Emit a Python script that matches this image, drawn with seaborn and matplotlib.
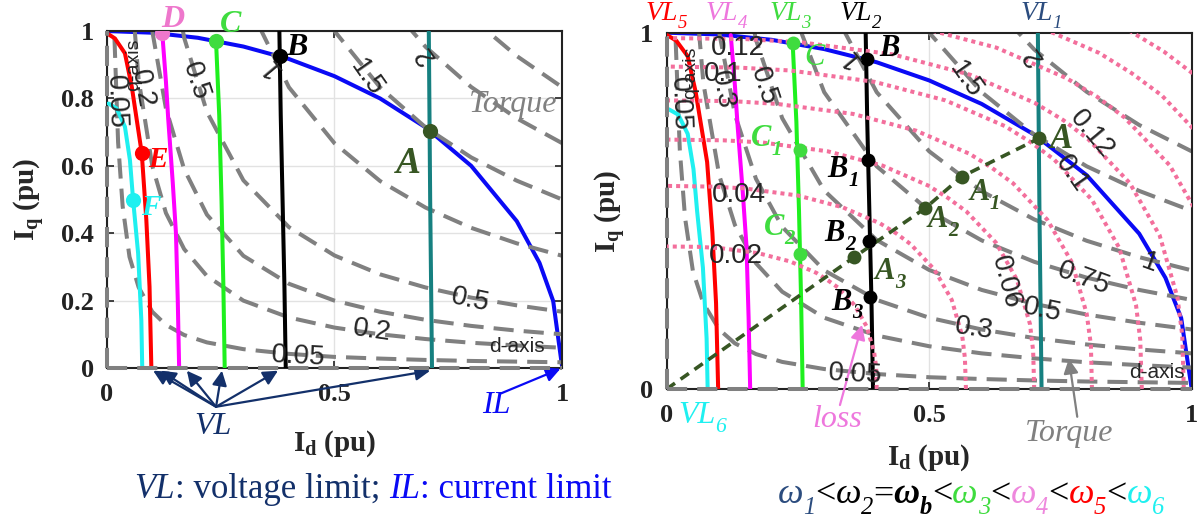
import numpy as np
import pandas as pd
import seaborn as sns
import matplotlib
matplotlib.use("Agg")
import matplotlib.pyplot as plt
from matplotlib.transforms import offset_copy

nan = np.nan

# ---------------- data ----------------
# current limit (IL) circle
il_id = [0.0, 0.1, 0.2, 0.3, 0.4, 0.5, 0.6, 0.7, 0.8, 0.9, 0.95, 0.98, 1.0]
il_iq = [1.0, 0.995, 0.98, 0.954, 0.917, 0.866, 0.80, 0.714, 0.60, 0.436, 0.312, 0.199, 0.0]

# voltage limit curves VL1..VL6
vl1_id = [0.707, 0.710, 0.714]
vl1_iq = [1.0, 0.5, 0.0]
vl2_id = [0.379, 0.382, 0.386, 0.390, 0.393]
vl2_iq = [1.0, 0.75, 0.5, 0.25, 0.0]
vl3_id = [0.240, 0.247, 0.252, 0.256, 0.259]
vl3_iq = [0.97, 0.75, 0.5, 0.25, 0.0]
vl4_id = [0.122, 0.130, 0.135, 0.145, 0.152, 0.156, 0.159]
vl4_iq = [0.993, 0.85, 0.74, 0.55, 0.40, 0.20, 0.0]
vl5_id = [0.001, 0.018, 0.040, 0.055, 0.066, 0.077, 0.087, 0.094, 0.098]
vl5_iq = [0.993, 0.978, 0.934, 0.835, 0.736, 0.637, 0.439, 0.241, 0.0]
vl6_id = [0.004, 0.022, 0.040, 0.051, 0.058, 0.069, 0.076, 0.078]
vl6_iq = [0.785, 0.770, 0.716, 0.617, 0.498, 0.340, 0.142, 0.0]

# constant-torque curves (Iq read at shared Id positions)
id_grid = [0.017, 0.025, 0.035, 0.05, 0.07, 0.1, 0.13, 0.17, 0.22, 0.3, 0.4, 0.5, 0.6, 0.7, 0.8, 0.9, 1.0]
torque_005 = [0.98, 0.67, 0.48, 0.33, 0.24, 0.167, 0.128, 0.098, 0.076, 0.056, 0.042, 0.033, 0.028, 0.024, 0.021, 0.019, 0.017]
torque_02 = [nan, nan, nan, 1.2, 0.857, 0.6, 0.46, 0.353, 0.273, 0.2, 0.15, 0.12, 0.1, 0.086, 0.075, 0.067, 0.06]
torque_03 = [nan, nan, nan, nan, 1.43, 1.0, 0.77, 0.59, 0.455, 0.333, 0.25, 0.2, 0.167, 0.143, 0.125, 0.111, 0.1]
torque_05 = [nan, nan, nan, nan, nan, nan, 1.28, 0.98, 0.76, 0.557, 0.418, 0.334, 0.278, 0.239, 0.209, 0.186, 0.167]
torque_075 = [nan, nan, nan, nan, nan, nan, nan, 1.47, 1.14, 0.833, 0.625, 0.5, 0.417, 0.357, 0.3125, 0.278, 0.25]
torque_1 = [nan, nan, nan, nan, nan, nan, nan, nan, 1.51, 1.11, 0.833, 0.667, 0.555, 0.476, 0.416, 0.37, 0.333]
torque_15 = [nan, nan, nan, nan, nan, nan, nan, nan, nan, nan, 1.25, 1.0, 0.833, 0.714, 0.625, 0.556, 0.5]
torque_2 = [nan, nan, nan, nan, nan, nan, nan, nan, nan, nan, nan, nan, 1.11, 0.953, 0.834, 0.741, 0.667]
torque_25 = [nan, nan, nan, nan, nan, nan, nan, nan, nan, nan, nan, nan, nan, nan, 1.04, 0.926, 0.833]

# loss contours (right chart)
loss_002_id = [0.400, 0.399, 0.395, 0.381, 0.358, 0.326, 0.306, 0.285, 0.235, 0.175, 0.104, 0.061, 0.0]
loss_002_iq = [0.0, 0.061, 0.104, 0.175, 0.235, 0.285, 0.306, 0.326, 0.358, 0.381, 0.395, 0.399, 0.400]
loss_004_id = [0.570, 0.568, 0.563, 0.543, 0.510, 0.465, 0.437, 0.406, 0.335, 0.250, 0.148, 0.087, 0.0]
loss_004_iq = [0.0, 0.087, 0.148, 0.250, 0.335, 0.406, 0.437, 0.465, 0.510, 0.543, 0.563, 0.568, 0.570]
loss_006_id = [0.700, 0.698, 0.692, 0.667, 0.627, 0.571, 0.536, 0.498, 0.411, 0.307, 0.182, 0.107, 0.0]
loss_006_iq = [0.0, 0.107, 0.182, 0.307, 0.411, 0.498, 0.536, 0.571, 0.627, 0.667, 0.692, 0.698, 0.700]
loss_008_id = [0.810, 0.808, 0.800, 0.772, 0.725, 0.660, 0.620, 0.577, 0.475, 0.355, 0.211, 0.124, 0.0]
loss_008_iq = [0.0, 0.124, 0.211, 0.355, 0.475, 0.577, 0.620, 0.660, 0.725, 0.772, 0.800, 0.808, 0.810]
loss_010_id = [0.905, 0.902, 0.894, 0.862, 0.810, 0.738, 0.693, 0.644, 0.531, 0.396, 0.235, 0.138, 0.0]
loss_010_iq = [0.0, 0.138, 0.235, 0.396, 0.531, 0.644, 0.693, 0.738, 0.810, 0.862, 0.894, 0.902, 0.905]
loss_012_id = [0.985, 0.982, 0.973, 0.939, 0.882, 0.803, 0.755, 0.701, 0.578, 0.431, 0.256, 0.151, 0.0]
loss_012_iq = [0.0, 0.151, 0.256, 0.431, 0.578, 0.701, 0.755, 0.803, 0.882, 0.939, 0.973, 0.982, 0.985]
loss_014_id = [1.070, 1.067, 1.057, 1.020, 0.958, 0.872, 0.820, 0.762, 0.628, 0.469, 0.278, 0.164, 0.0]
loss_014_iq = [0.0, 0.164, 0.278, 0.469, 0.628, 0.762, 0.820, 0.872, 0.958, 1.020, 1.057, 1.067, 1.070]
loss_016_id = [1.157, 1.154, 1.143, 1.103, 1.036, 0.943, 0.886, 0.824, 0.679, 0.507, 0.301, 0.177, 0.0]
loss_016_iq = [0.0, 0.177, 0.301, 0.507, 0.679, 0.824, 0.886, 0.943, 1.036, 1.103, 1.143, 1.154, 1.157]
loss_018_id = [1.236, 1.232, 1.221, 1.178, 1.106, 1.007, 0.947, 0.880, 0.726, 0.541, 0.321, 0.189, 0.0]
loss_018_iq = [0.0, 0.189, 0.321, 0.541, 0.726, 0.880, 0.947, 1.007, 1.106, 1.178, 1.221, 1.232, 1.236]

# operating path (right chart)
path_id = [0.0, 0.357, 0.492, 0.562, 0.710]
path_iq = [0.0, 0.370, 0.507, 0.596, 0.704]

# operating points
pt_A = (0.710, 0.704)
pt_B = (0.381, 0.925)
pt_C = (0.240, 0.970)
pt_D = (0.122, 0.993)
pt_E = (0.078, 0.638)
pt_F = (0.058, 0.498)
pts_A_sub_id = [0.562, 0.492, 0.357]
pts_A_sub_iq = [0.596, 0.507, 0.370]
pts_B_sub_id = [0.384, 0.386, 0.387]
pts_B_sub_iq = [0.643, 0.416, 0.259]
pts_C_sub_id = [0.253, 0.254]
pts_C_sub_iq = [0.671, 0.379]

# ---------------- style ----------------
sns.set_theme(style="white")
plt.rcParams["font.family"] = ["Liberation Serif", "DejaVu Sans"]
plt.rcParams["mathtext.fontset"] = "custom"
plt.rcParams["mathtext.rm"] = "Liberation Serif"
plt.rcParams["mathtext.it"] = "Liberation Serif:italic"
plt.rcParams["mathtext.bf"] = "Liberation Serif:bold"

GRAY = "#808080"
PINK = "#f36f9c"
TEAL = "#168080"
GREEN = "#1ef01e"
MAG = "#ff00ff"
RED = "#ff0000"
CYAN = "#1ff0f0"
BLUE = "#0a0af5"
OLIVE = "#375623"
CLAB = "#3fdc3f"
DLAB = "#ee77cc"
NAVY = "#13306a"
VL1C = "#2b4c7e"
SANS = "Liberation Sans"

fig = plt.figure(figsize=(12.03, 5.19), dpi=100)
ax1 = fig.add_axes([0.0887, 0.2909, 0.3787, 0.6493])
ax2 = fig.add_axes([0.5542, 0.2505, 0.4364, 0.6865])


def line(ax, x, y, color, lw=2.9, ls="-", z=2.0, clip=True):
    sns.lineplot(x=x, y=y, ax=ax, color=color, linewidth=lw, linestyle=ls,
                 sort=False, estimator=None, zorder=z, legend=False, clip_on=clip)


def dots(ax, xs, ys, color, s=110):
    sns.scatterplot(x=xs, y=ys, ax=ax, color=color, s=s, linewidth=0, zorder=6, legend=False)


def rich(x, y, pieces, size, transform, ha="center"):
    r = fig.canvas.get_renderer()

    def width(s, kw):
        t1 = fig.text(0, 0, "|" + s + "|", **kw)
        w1 = t1.get_window_extent(r).width
        t1.remove()
        t2 = fig.text(0, 0, "||", **kw)
        w2 = t2.get_window_extent(r).width
        t2.remove()
        return w1 - w2

    items = []
    total = 0.0
    for s, opts in pieces:
        opts = dict(opts)
        sub = opts.pop("sub", False)
        fs = size * (0.68 if sub else 1.0)
        kw = dict(fontsize=fs, family="Liberation Serif")
        kw.update(opts)
        w = width(s, kw)
        items.append((s, kw, sub, w))
        total += w
    cur = {"center": -total / 2, "left": 0.0, "right": -total}[ha]
    for s, kw, sub, w in items:
        dy = -0.28 * size if sub else 0.0
        tr = offset_copy(transform, fig=fig, x=cur * 72.0 / fig.dpi, y=dy, units="points")
        fig.text(x, y, s, transform=tr, ha="left", va="baseline", **kw)
        cur += w


TDASH = (0, (5, 2.5))
PDOT = (0, (1, 1))

# ---------------- left chart ----------------
for tq in [torque_005, torque_02, torque_03, torque_05, torque_1, torque_15, torque_2, torque_25]:
    line(ax1, id_grid, tq, GRAY, lw=2.9, ls=TDASH, z=2.4)
line(ax1, [0.0, 1.0], [0.0, 0.0], GRAY, lw=2.9, ls=TDASH, z=4.5, clip=False)
line(ax1, [0.0, 0.0], [0.0, 1.0], GRAY, lw=2.9, ls=TDASH, z=4.5, clip=False)
line(ax1, il_id, il_iq, BLUE, lw=2.9, z=2.2)
for vx, vy, c in [(vl1_id, vl1_iq, TEAL), (vl2_id, vl2_iq, "black"), (vl3_id, vl3_iq, GREEN),
                  (vl4_id, vl4_iq, MAG), (vl5_id, vl5_iq, RED), (vl6_id, vl6_iq, CYAN)]:
    line(ax1, vx, vy, c, lw=2.9, z=3)
for p, c in [(pt_A, OLIVE), (pt_B, "black"), (pt_C, CLAB), (pt_D, DLAB), (pt_E, RED), (pt_F, CYAN)]:
    dots(ax1, [p[0]], [p[1]], c, s=120)

lab_kw = dict(family="Liberation Serif", style="italic", weight="bold", ha="center", va="center",
              clip_on=False, zorder=7)
ax1.text(0.662, 0.608, "A", color=OLIVE, fontsize=27, **lab_kw)
ax1.text(0.418, 0.95, "B", color="black", fontsize=23, **lab_kw)
ax1.text(0.272, 1.02, "C", color=CLAB, fontsize=23, **lab_kw)
ax1.text(0.144, 1.035, "D", color=DLAB, fontsize=23, **lab_kw)
ax1.text(0.112, 0.62, "E", color=RED, fontsize=21, **lab_kw)
ax1.text(0.097, 0.475, "F", color=CYAN, fontsize=21, **lab_kw)

clab1 = [("0.05", 0.020, 0.79, -88), ("0.2", 0.077, 0.83, -80), ("0.5", 0.194, 0.85, -72),
         ("1", 0.36, 0.895, 130), ("1.5", 0.571, 0.86, -55), ("2", 0.70, 0.93, 125),
         ("0.05", 0.42, 0.035, -3), ("0.2", 0.583, 0.11, -8), ("0.5", 0.797, 0.20, -12)]
for s, x, y, rot in clab1:
    ax1.text(x, y, s, fontsize=20, family=SANS, rotation=rot, ha="center", va="center",
             rotation_mode="anchor", zorder=6, clip_on=False)
ax1.text(0.90, 0.065, "d-axis", fontsize=15, family=SANS, ha="center", va="center", zorder=6)
ax1.text(0.058, 0.90, "q-axis", fontsize=14, family=SANS, rotation=90, ha="center", va="center", zorder=6)
ax1.text(0.893, 0.783, "Torque", fontsize=23, family="Liberation Serif", style="italic",
         color=GRAY, ha="center", va="center", zorder=6, clip_on=False)

# arrows below the left chart
vl_tips = [0.102, 0.119, 0.176, 0.253, 0.376, 0.71]
for tx in vl_tips:
    ax1.annotate("", xy=(tx, -0.008), xytext=(0.24, -0.115), xycoords="data",
                 arrowprops=dict(arrowstyle="-|>", color=NAVY, lw=1.6, mutation_scale=22,
                                 shrinkA=0, shrinkB=0), annotation_clip=False)
ax1.annotate("", xy=(0.996, -0.002), xytext=(0.866, -0.075), xycoords="data",
             arrowprops=dict(arrowstyle="-|>", color=BLUE, lw=1.6, mutation_scale=22,
                             shrinkA=0, shrinkB=0), annotation_clip=False)
ax1.text(0.233, -0.175, "VL", fontsize=23, style="italic", color=NAVY, ha="center", va="center", clip_on=False)
ax1.text(0.856, -0.11, "IL", fontsize=23, style="italic", color=BLUE, ha="center", va="center", clip_on=False)

# ---------------- right chart ----------------
for tq in [torque_005, torque_02, torque_03, torque_05, torque_075, torque_1, torque_15, torque_2]:
    line(ax2, id_grid, tq, GRAY, lw=2.9, ls=TDASH, z=2.4)
line(ax2, [0.0, 1.0], [0.0, 0.0], GRAY, lw=2.9, ls=TDASH, z=4.5, clip=False)
line(ax2, [0.0, 0.0], [0.0, 1.0], GRAY, lw=2.9, ls=TDASH, z=4.5, clip=False)
for lx, ly in [(loss_002_id, loss_002_iq), (loss_004_id, loss_004_iq), (loss_006_id, loss_006_iq),
               (loss_008_id, loss_008_iq), (loss_010_id, loss_010_iq), (loss_012_id, loss_012_iq),
               (loss_014_id, loss_014_iq), (loss_016_id, loss_016_iq), (loss_018_id, loss_018_iq)]:
    line(ax2, lx, ly, PINK, lw=2.9, ls=PDOT, z=3.2)
line(ax2, il_id, il_iq, BLUE, lw=2.9, z=2.2)
for vx, vy, c in [(vl1_id, vl1_iq, TEAL), (vl2_id, vl2_iq, "black"), (vl3_id, vl3_iq, GREEN),
                  (vl4_id, vl4_iq, MAG), (vl5_id, vl5_iq, RED), (vl6_id, vl6_iq, CYAN)]:
    line(ax2, vx, vy, c, lw=2.9, z=3)
line(ax2, path_id, path_iq, OLIVE, lw=2.6, ls=(0, (2.8, 1.9)), z=3.5)
dots(ax2, [pt_A[0]] + pts_A_sub_id, [pt_A[1]] + pts_A_sub_iq, OLIVE, s=100)
dots(ax2, [pt_B[0]] + pts_B_sub_id, [pt_B[1]] + pts_B_sub_iq, "black", s=100)
dots(ax2, [pt_C[0]] + pts_C_sub_id, [pt_C[1]] + pts_C_sub_iq, CLAB, s=100)

T2 = ax2.transData
bi = dict(style="italic", weight="bold")
ax2.text(0.751, 0.699, "A", color=OLIVE, fontsize=25, **lab_kw)
ax2.text(0.425, 0.955, "B", color="black", fontsize=22, **lab_kw)
ax2.text(0.281, 0.93, "C", color=CLAB, fontsize=22, style="italic", family="Liberation Serif",
         ha="center", va="center", zorder=7)
rich(0.606, 0.530, [("A", dict(color=OLIVE, **bi)), ("1", dict(color=OLIVE, sub=True, **bi))], 22, T2)
rich(0.527, 0.454, [("A", dict(color=OLIVE, **bi)), ("2", dict(color=OLIVE, sub=True, **bi))], 22, T2)
rich(0.425, 0.308, [("A", dict(color=OLIVE, **bi)), ("3", dict(color=OLIVE, sub=True, **bi))], 22, T2)
rich(0.336, 0.595, [("B", dict(color="black", **bi)), ("1", dict(color="black", sub=True, **bi))], 22, T2)
rich(0.330, 0.415, [("B", dict(color="black", **bi)), ("2", dict(color="black", sub=True, **bi))], 22, T2)
rich(0.343, 0.222, [("B", dict(color="black", **bi)), ("3", dict(color="black", sub=True, **bi))], 22, T2)
rich(0.190, 0.682, [("C", dict(color=CLAB, **bi)), ("1", dict(color=CLAB, sub=True, **bi))], 22, T2)
rich(0.214, 0.432, [("C", dict(color=CLAB, **bi)), ("2", dict(color=CLAB, sub=True, **bi))], 22, T2)

clab2 = [("0.05", 0.025, 0.80, -88), ("0.3", 0.105, 0.84, -80), ("0.5", 0.185, 0.85, -72),
         ("1", 0.35, 0.93, 130), ("1.5", 0.569, 0.867, -55), ("2", 0.698, 0.934, 125),
         ("0.05", 0.36, 0.04, -3), ("0.3", 0.586, 0.17, -8), ("0.5", 0.715, 0.22, -12),
         ("0.75", 0.795, 0.31, -20), ("1", 0.919, 0.354, -20),
         ("0.12", 0.135, 0.957, 0), ("0.1", 0.107, 0.884, 0), ("0.04", 0.138, 0.545, 0),
         ("0.02", 0.132, 0.373, 0), ("0.12", 0.809, 0.716, -50), ("0.1", 0.772, 0.603, -55),
         ("0.06", 0.646, 0.30, -75)]
for s, x, y, rot in clab2:
    ax2.text(x, y, s, fontsize=20, family=SANS, rotation=rot, ha="center", va="center",
             rotation_mode="anchor", zorder=6, clip_on=False)
ax2.text(0.934, 0.045, "d-axis", fontsize=15, family=SANS, ha="center", va="center", zorder=6)
ax2.text(0.045, 0.887, "q-axis", fontsize=14, family=SANS, rotation=90, ha="center", va="center", zorder=6)

it = dict(style="italic")
for name, sub, x, col in [("VL", "5", 0.000, RED), ("VL", "4", 0.113, "#ee77dd"), ("VL", "3", 0.235, CLAB),
                          ("VL", "2", 0.37, "black"), ("VL", "1", 0.713, VL1C)]:
    rich(x, 1.036, [(name, dict(color=col, **it)), (sub, dict(color=col, sub=True, **it))], 20, T2)
rich(0.068, -0.095, [("VL", dict(color=CYAN, **it)), ("6", dict(color=CYAN, sub=True, **it))], 23, T2)
ax2.text(0.325, -0.085, "loss", fontsize=23, style="italic", color="#ee77dd", ha="center", va="center", clip_on=False)
ax2.text(0.766, -0.125, "Torque", fontsize=23, style="italic", color=GRAY, ha="center", va="center", clip_on=False)
ax2.annotate("", xy=(0.372, 0.18), xytext=(0.33, -0.045), xycoords="data",
             arrowprops=dict(arrowstyle="-|>", color="#ee77dd", lw=1.6, mutation_scale=22,
                             shrinkA=0, shrinkB=0), annotation_clip=False)
ax2.annotate("", xy=(0.766, 0.085), xytext=(0.782, -0.078), xycoords="data",
             arrowprops=dict(arrowstyle="-|>", color=GRAY, lw=1.6, mutation_scale=22,
                             shrinkA=0, shrinkB=0), annotation_clip=False)

# ---------------- axes formatting ----------------
for ax in (ax1, ax2):
    ax.set_xlim(0, 1)
    ax.set_ylim(0, 1)
    ax.set_facecolor("white")
    for sp in ax.spines.values():
        sp.set_visible(True)
        sp.set_color("#222222")
        sp.set_linewidth(1.5)
    ax.tick_params(direction="in", length=5, width=1.2, top=True, right=True,
                   bottom=True, left=True, labelsize=19, colors="#222222")
    ax.set_axisbelow(True)

ax1.set_xticks([0, 0.5, 1])
ax1.set_xticklabels(["0", "0.5", "1"])
ax1.set_yticks([0, 0.2, 0.4, 0.6, 0.8, 1])
ax1.set_yticklabels(["0", "0.2", "0.4", "0.6", "0.8", "1"])
ax1.grid(True, color="#e2e2e2", lw=1.0)
ax2.set_xticks([0, 0.5, 1])
ax2.set_xticklabels(["0", "0.5", "1"])
ax2.set_yticks([0, 1])
ax2.set_yticklabels(["0", "1"])
ax2.grid(True, axis="x", color="#e2e2e2", lw=1.0)
ax2.grid(False, axis="y")

ax1.tick_params(axis="x", pad=11)
ax1.tick_params(axis="y", pad=9)
ax2.tick_params(axis="x", pad=11)
ax2.tick_params(axis="y", pad=10)
for ax in (ax1, ax2):
    for lb in ax.get_xticklabels() + ax.get_yticklabels():
        lb.set_fontweight("bold")
        lb.set_family("Liberation Serif")

ax1.set_xlabel(r"$\mathbf{I}_{\mathbf{d}}$ (pu)", fontsize=21, fontweight="bold", labelpad=16)
ax1.set_ylabel(r"$\mathbf{I}_{\mathbf{q}}$ (pu)", fontsize=21, fontweight="bold", labelpad=10)
ax2.set_xlabel(r"$\mathbf{I}_{\mathbf{d}}$ (pu)", fontsize=21, fontweight="bold", labelpad=11)
ax2.set_ylabel(r"$\mathbf{I}_{\mathbf{q}}$ (pu)", fontsize=21, fontweight="bold", labelpad=8)

# ---------------- captions ----------------
FT = fig.transFigure
rich(0.310, 0.040, [("VL", dict(color=NAVY, style="italic")), (": voltage limit; ", dict(color=NAVY)),
                    ("IL", dict(color=BLUE, style="italic")), (": current limit", dict(color=BLUE))], 25, FT)
cap = [("ω", dict(color=VL1C, style="italic")), ("1", dict(color=VL1C, style="italic", sub=True)),
       ("<", dict(color="black")),
       ("ω", dict(color="black", style="italic")), ("2", dict(color="black", style="italic", sub=True)),
       ("=", dict(color="black")),
       ("ω", dict(color="black", style="italic", weight="bold")),
       ("b", dict(color="black", style="italic", weight="bold", sub=True)),
       ("<", dict(color="black")),
       ("ω", dict(color=CLAB, style="italic")), ("3", dict(color=CLAB, style="italic", sub=True)),
       ("<", dict(color="black")),
       ("ω", dict(color="#ee88dd", style="italic")), ("4", dict(color="#ee88dd", style="italic", sub=True)),
       ("<", dict(color="black")),
       ("ω", dict(color=RED, style="italic")), ("5", dict(color=RED, style="italic", sub=True)),
       ("<", dict(color="black")),
       ("ω", dict(color=CYAN, style="italic")), ("6", dict(color=CYAN, style="italic", sub=True))]
rich(0.807, 0.030, cap, 26, FT)

fig.savefig("out.png", dpi=100, facecolor="white")
